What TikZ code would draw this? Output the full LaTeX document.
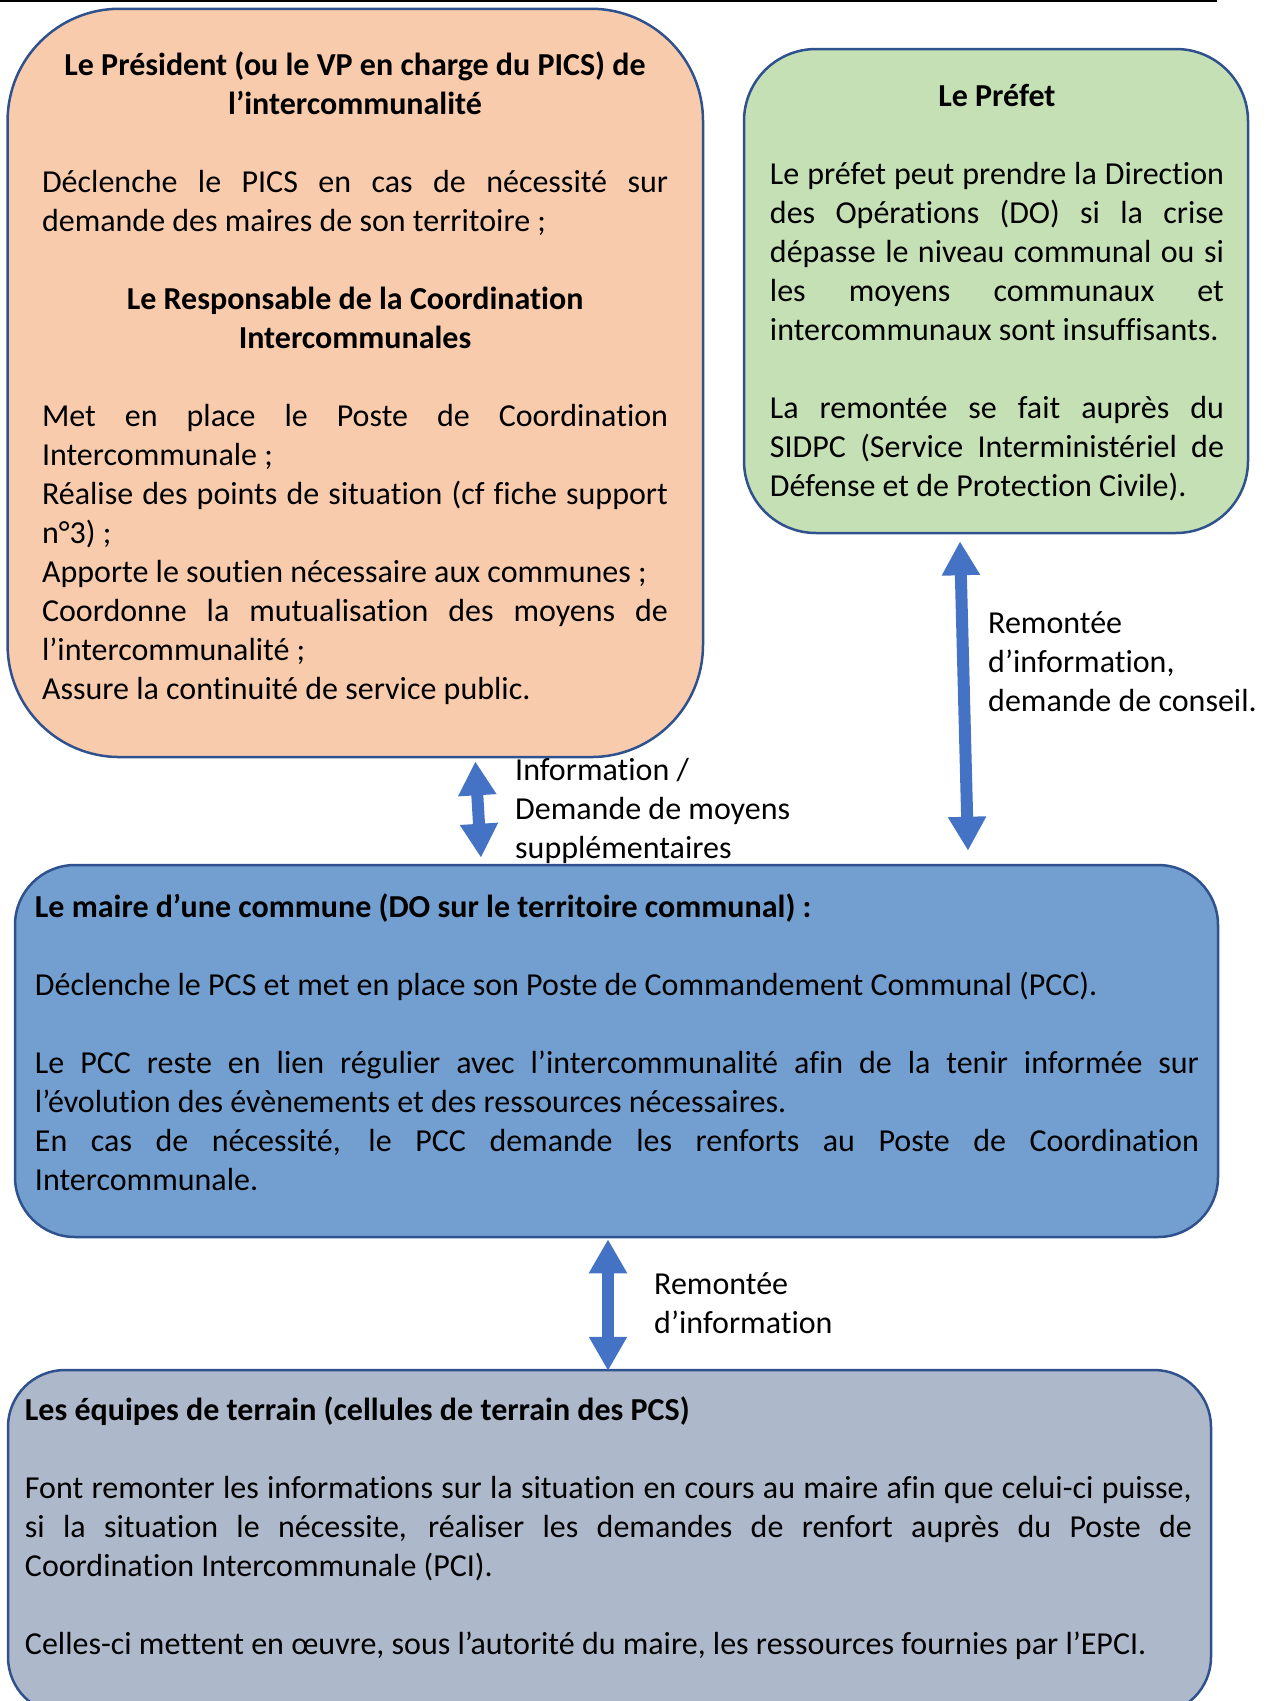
\documentclass[tikz,border=0pt]{standalone}
\usepackage{fontspec}
\setmainfont{Carlito}[Ligatures=CommonOff]
\usetikzlibrary{arrows.meta, positioning}

\definecolor{presfill}{HTML}{F8CBAD}
\definecolor{prefetfill}{HTML}{C5E0B4}
\definecolor{mairefill}{HTML}{729FCF}
\definecolor{terrainfill}{HTML}{ADB9CA}
\definecolor{boxedge}{HTML}{2F528F}
\definecolor{arrowblue}{HTML}{4472C4}

\hyphenpenalty=10000
\exhyphenpenalty=10000
\newcommand{\blankrow}{\par\vspace{39pt}}

\begin{document}
\begin{tikzpicture}[x=1pt, y=-1pt,
    box/.style={rectangle, draw=boxedge, line width=2.5pt},
    txt/.style={inner sep=0pt, align=justify,
                font=\fontsize{32}{39}\selectfont},
    lbl/.style={anchor=north west, inner sep=0pt, align=left,
                font=\fontsize{32}{39}\selectfont},
    bigarrow/.style={draw=arrowblue, line width=12pt,
                     {Triangle[width=36pt, length=34pt]}-{Triangle[width=36pt, length=34pt]}}
]
\useasboundingbox (0,0) rectangle (1268,1701);
\draw [line width=2pt] (0,1) -- (1217,1);

% boxes
\node (pres)    [box, fill=presfill, minimum width=695.4pt, minimum height=748.3pt,
                 rounded corners=112pt] at (355.3,382.9) {};
\node (prefet)  [box, fill=prefetfill, minimum width=504pt, minimum height=484pt,
                 rounded corners=72pt] at (996,291) {};
\node (maire)   [box, fill=mairefill, minimum width=1203pt, minimum height=372pt,
                 rounded corners=60pt] at (616.5,1051) {};
\node (terrain) [box, fill=terrainfill, minimum width=1203pt, minimum height=344pt,
                 rounded corners=57pt] at (609.5,1542) {};

% box texts
\node (prestxt) [txt, text width=626pt, below right=40pt and 35.5pt of pres.north west] {%
  {\bfseries\centering\strut Le Président (ou le VP en charge du PICS) de\\ l’intercommunalité\par}
  \blankrow
  Déclenche le PICS en cas de nécessité sur\linebreak demande des maires de son territoire~;
  \blankrow
  {\bfseries\centering Le Responsable de la Coordination\\ Intercommunales\par}
  \blankrow
  Met en place le Poste de Coordination\linebreak Intercommunale~;\par
  Réalise des points de situation (cf fiche support\linebreak n°3)~;\par
  Apporte le soutien nécessaire aux communes~;\par
  Coordonne la mutualisation des moyens de\linebreak l’intercommunalité~;\par
  Assure la continuité de service public.};
\node (prefettxt) [txt, text width=454pt, below right=31pt and 27pt of prefet.north west] {%
  {\bfseries\centering\strut Le Préfet\par}
  \blankrow
  Le préfet peut prendre la Direction\linebreak des Opérations (DO) si la crise\linebreak
  dépasse le niveau communal ou si\linebreak les moyens communaux et\linebreak
  intercommunaux sont insuffisants.
  \blankrow
  La remontée se fait auprès du\linebreak SIDPC (Service Interministériel de\linebreak
  Défense et de Protection Civile).};
\node (mairetxt) [txt, text width=1164pt, below right=26pt and 21pt of maire.north west] {%
  {\bfseries\strut Le maire d’une commune (DO sur le territoire communal)~:\par}
  \blankrow
  Déclenche le PCS et met en place son Poste de Commandement Communal (PCC).
  \blankrow
  Le PCC reste en lien régulier avec l’intercommunalité afin de la tenir informée sur\linebreak
  l’évolution des évènements et des ressources nécessaires.\par
  En cas de nécessité, le PCC demande les renforts au Poste de Coordination\linebreak
  Intercommunale.};
\node (terraintxt) [txt, text width=1167pt, below right=24pt and 18pt of terrain.north west] {%
  {\bfseries\strut Les équipes de terrain (cellules de terrain des PCS)\par}
  \blankrow
  Font remonter les informations sur la situation en cours au maire afin que celui-ci puisse,\linebreak
  si la situation le nécessite, réaliser les demandes de renfort auprès du Poste de\linebreak
  Coordination Intercommunale (PCI).
  \blankrow
  Celles-ci mettent en œuvre, sous l’autorité du maire, les ressources fournies par l’EPCI.};

% connectors
\draw [bigarrow] ([xshift=120pt, yshift=-3pt]pres.south) -- ([xshift=-135.5pt, yshift=6pt]maire.north);
\draw [bigarrow] ([xshift=-36pt, yshift=-7pt]prefet.south) -- ([xshift=351.5pt, yshift=13pt]maire.north);
\draw [bigarrow] ([xshift=-8.5pt, yshift=-1pt]maire.south) -- ([xshift=-1.5pt, yshift=-2pt]terrain.north);

% connector labels
\node (lblinfo)    [lbl] at (515,753)  {\strut Information /\\Demande de moyens\\supplémentaires};
\node (lblconseil) [lbl] at (988,606)  {\strut Remontée\\d’information,\\demande de conseil.};
\node (lblterrain) [lbl] at (654,1267) {\strut Remontée\\d’information};
\end{tikzpicture}
\end{document}
